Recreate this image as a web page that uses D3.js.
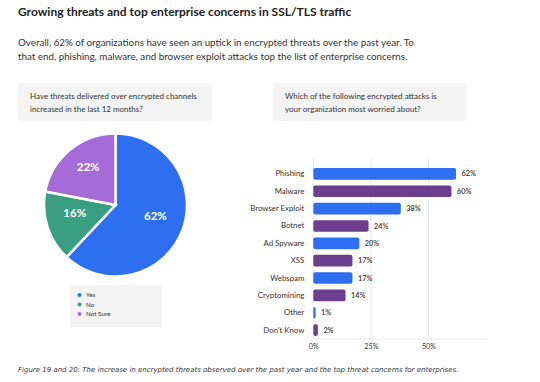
<!DOCTYPE html>
<html><head><meta charset="utf-8">
<script src="https://cdn.jsdelivr.net/npm/d3@7"></script>
<style>
html,body{margin:0;padding:0;background:#fff;}
svg{display:block;font-family:"Open Sans",sans-serif;}
</style></head>
<body>
<div id="chart"></div>
<script>
// ---- data ----
const pieLabels = ["Yes", "No", "Not Sure"];
const pieValues = [62, 16, 22];
const pieColors = ["#2e6ef0", "#3a9f82", "#a56bd8"];

const barCategories = ["Phishing", "Malware", "Browser Exploit", "Botnet", "Ad Spyware", "XSS", "Webspam", "Cryptomining", "Other", "Don't Know"];
const barValues = [62, 60, 38, 24, 20, 17, 17, 14, 1, 2];
const barColors = ["#2e6ef0", "#6b3e90"];
const xTicks = [0, 25, 50];

const title = "Growing threats and top enterprise concerns in SSL/TLS traffic";
const subtitle = ["Overall, 62% of organizations have seen an uptick in encrypted threats over the past year. To",
                  "that end, phishing, malware, and browser exploit attacks top the list of enterprise concerns."];
const q1 = ["Have threats delivered over encrypted channels", "increased in the last 12 months?"];
const q2 = ["Which of the following encrypted attacks is", "your organization most worried about?"];
const caption = "Figure 19 and 20: The increase in encrypted threats observed over the past year and the top threat concerns for enterprises.";

const W = 540, H = 382;
const svg = d3.select("#chart").append("svg").attr("width", W).attr("height", H);

svg.append("text").attr("x", 18).attr("y", 15.5).attr("font-size", 12).attr("font-weight", 700)
  .attr("fill", "#222").attr("font-family", "Lato, sans-serif").text(title);

subtitle.forEach((t, i) => svg.append("text").attr("x", 18).attr("y", 45.5 + i * 14)
  .attr("font-size", 9.8).attr("fill", "#333").attr("font-family", "Lato, sans-serif").text(t));

function qbox(x, lines) {
  svg.append("rect").attr("x", x).attr("y", 83).attr("width", 194).attr("height", 38).attr("rx", 3).attr("fill", "#f4f4f4");
  lines.forEach((t, i) => svg.append("text").attr("x", x + 12).attr("y", 99 + i * 12.5)
    .attr("font-size", 8).attr("fill", "#333").attr("font-family", "Lato, sans-serif").text(t));
}
qbox(18, q1);
qbox(273, q2);

// ---- pie ----
const cx = 115.5, cy = 205, R = 71.5;
const pie = d3.pie().sort(null).value(d => d)(pieValues);
const arc = d3.arc().innerRadius(0).outerRadius(R);
const labelArc = d3.arc().innerRadius(R * 0.6).outerRadius(R * 0.6);
const pg = svg.append("g").attr("transform", `translate(${cx},${cy})`);
pg.selectAll("path").data(pie).join("path").attr("d", arc)
  .attr("fill", (d, i) => pieColors[i]).attr("stroke", "#fff").attr("stroke-width", 2.5);
pg.selectAll("text").data(pie).join("text")
  .attr("transform", d => { const c = labelArc.centroid(d); return `translate(${c[0]},${c[1] - 5})`; })
  .attr("text-anchor", "middle").attr("dy", "0.35em")
  .attr("font-size", 11.5).attr("font-weight", 700).attr("fill", "#fff")
  .attr("font-family", "Lato, sans-serif")
  .text(d => d.value + "%");

// legend
svg.append("rect").attr("x", 70).attr("y", 285).attr("width", 92).attr("height", 42).attr("fill", "#f4f4f4");
pieLabels.forEach((l, i) => {
  svg.append("circle").attr("cx", 79.5).attr("cy", 295 + i * 9.5).attr("r", 2).attr("fill", pieColors[i]);
  svg.append("text").attr("x", 86).attr("y", 295 + i * 9.5).attr("dy", "0.35em")
    .attr("font-size", 6.3).attr("fill", "#333").attr("font-family", "Lato, sans-serif").text(l);
});

// ---- bars ----
const x = d3.scaleLinear().domain([0, 75]).range([313.3, 486]);
const y = d3.scaleBand().domain(barCategories).range([165.3, 338.7]).paddingInner(0.33).paddingOuter(0.16);
const bg = svg.append("g");
bg.selectAll("line.grid").data(xTicks).join("line").attr("class", "grid")
  .attr("x1", d => x(d)).attr("x2", d => x(d)).attr("y1", 158).attr("y2", 339)
  .attr("stroke", "#e3e3e3").attr("stroke-width", 0.8);
bg.append("line").attr("x1", x(0)).attr("x2", x(75)).attr("y1", 339).attr("y2", 339)
  .attr("stroke", "#e3e3e3").attr("stroke-width", 0.8);
bg.selectAll("rect.bar").data(barCategories).join("rect").attr("class", "bar")
  .attr("x", x(0)).attr("y", d => y(d)).attr("height", y.bandwidth())
  .attr("width", (d, i) => x(barValues[i]) - x(0)).attr("rx", 1.8)
  .attr("fill", (d, i) => barColors[i % 2]);
bg.selectAll("text.val").data(barCategories).join("text").attr("class", "val")
  .attr("x", (d, i) => x(barValues[i]) + 5.5).attr("y", d => y(d) + y.bandwidth() / 2).attr("dy", "0.35em")
  .attr("font-size", 7.3).attr("font-weight", 600).attr("fill", "#333").attr("font-family", "Lato, sans-serif")
  .text((d, i) => barValues[i] + "%");

const yAxis = d3.axisLeft(y).tickSize(0).tickPadding(9);
const ya = svg.append("g").attr("transform", `translate(${x(0)},0)`).call(yAxis);
ya.select(".domain").remove();
ya.selectAll("text").attr("font-size", 7.8).attr("fill", "#333").attr("font-family", "Lato, sans-serif");

const xAxis = d3.axisBottom(x).tickValues(xTicks).tickSize(0).tickPadding(5).tickFormat(d => d + "%");
const xa = svg.append("g").attr("transform", `translate(0,339)`).call(xAxis);
xa.select(".domain").remove();
xa.selectAll("text").attr("font-size", 7.2).attr("fill", "#333").attr("font-family", "Lato, sans-serif");

svg.append("text").attr("x", 18).attr("y", 372).attr("font-size", 7).attr("font-style", "italic")
  .attr("fill", "#333").attr("font-family", "'DejaVu Sans', sans-serif").text(caption);
</script>
</body></html>
